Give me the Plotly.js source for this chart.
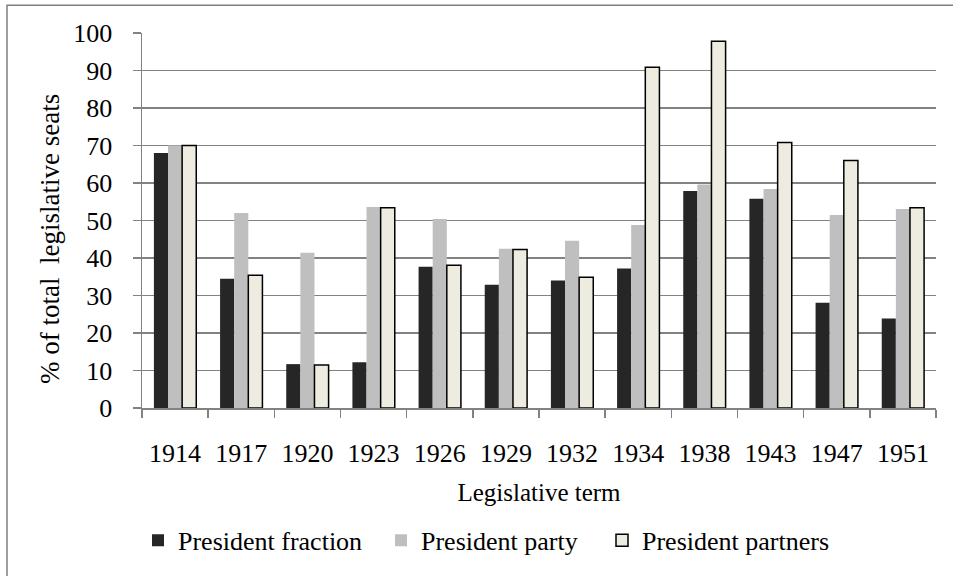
<!DOCTYPE html>
<html>
<head>
<meta charset="utf-8">
<script src="https://cdn.plot.ly/plotly-3.0.1.min.js"></script>
<style>
  html, body { margin: 0; padding: 0; background: #ffffff; }
  #chart { width: 953px; height: 576px; }
</style>
</head>
<body>
<div id="chart"></div>
<script>
const terms = ['1914','1917','1920','1923','1926','1929','1932','1934','1938','1943','1947','1951'];
const presidentFraction = [68.0, 34.5, 11.7, 12.2, 37.7, 32.9, 34.0, 37.2, 57.9, 55.8, 28.1, 23.9];
const presidentParty    = [70.0, 52.0, 41.4, 53.6, 50.4, 42.5, 44.6, 48.8, 59.6, 58.4, 51.5, 53.1];
const presidentPartners = [70.0, 35.4, 11.5, 53.4, 38.1, 42.3, 34.9, 90.9, 97.8, 70.8, 66.0, 53.4];
const seriesNames = ['President fraction', 'President party', 'President partners'];
const yTicks = [0,10,20,30,40,50,60,70,80,90,100];
const xTitle = 'Legislative term';
const yTitle = '% of total  legislative seats';

const FONT = 'Liberation Serif, Times New Roman, serif';
const GRID = '#828282';

const traces = [
  { type: 'bar', name: seriesNames[0], x: terms, y: presidentFraction, legend: 'legend',
    marker: { color: '#262626', line: { width: 0 } } },
  { type: 'bar', name: seriesNames[1], x: terms, y: presidentParty, legend: 'legend2',
    marker: { color: '#bfbfbf', line: { width: 0 } } },
  { type: 'bar', name: seriesNames[2], x: terms, y: presidentPartners, legend: 'legend3',
    marker: { color: '#eeece1', line: { color: '#000000', width: 1.5 } } }
];

const L = 142, R = 936, T = 33, B = 410;
const pw = R - L, ph = B - T;
const px2x = p => (p - L) / pw;
const py2y = p => (B - p) / ph;

function legendAt(px) {
  return {
    orientation: 'h', x: px2x(px), xanchor: 'left', y: py2y(543), yanchor: 'middle',
    font: { family: FONT, size: 26, color: '#000000' },
    bgcolor: 'rgba(0,0,0,0)', borderwidth: 0
  };
}

const layout = {
  width: 953, height: 576,
  margin: { l: L, r: 953 - R, t: T, b: 576 - B, pad: 0 },
  paper_bgcolor: '#ffffff', plot_bgcolor: '#ffffff',
  font: { family: FONT, size: 26, color: '#000000' },
  barmode: 'group', bargap: 0.36, bargroupgap: 0,
  showlegend: true,
  legend: legendAt(138),
  legend2: legendAt(381),
  legend3: legendAt(602),
  xaxis: {
    type: 'category', showgrid: false, zeroline: false,
    showline: true, linecolor: GRID, linewidth: 1.5,
    ticks: 'outside', tickson: 'boundaries', ticklen: 8, tickwidth: 1.5, tickcolor: GRID,
    tickfont: { family: FONT, size: 26 }, ticklabelstandoff: 21,
    title: { text: xTitle, font: { family: FONT, size: 25 }, standoff: 17 },
    automargin: false, fixedrange: true
  },
  yaxis: {
    range: [0, 100], tickvals: yTicks, ticktext: yTicks.map(String),
    showgrid: true, gridcolor: GRID, gridwidth: 1.5, zeroline: false,
    showline: true, linecolor: GRID, linewidth: 1.5,
    ticks: 'outside', ticklen: 8, tickwidth: 1.5, tickcolor: GRID,
    tickfont: { family: FONT, size: 26 }, ticklabelstandoff: 15,
    automargin: false, fixedrange: true
  },
  annotations: [
    { text: yTitle, xref: 'paper', yref: 'paper', x: px2x(50), y: py2y(240),
      xanchor: 'center', yanchor: 'middle', textangle: -90, showarrow: false,
      font: { family: FONT, size: 27, color: '#000000' } }
  ],
  shapes: [
    { type: 'rect', xref: 'paper', yref: 'paper', layer: 'below',
      x0: px2x(7), x1: px2x(1000), y0: py2y(640), y1: py2y(5),
      line: { color: '#7f7f7f', width: 1.5 }, fillcolor: 'rgba(0,0,0,0)' }
  ]
};

Plotly.newPlot('chart', traces, layout, { displayModeBar: false, staticPlot: true });
</script>
</body>
</html>
